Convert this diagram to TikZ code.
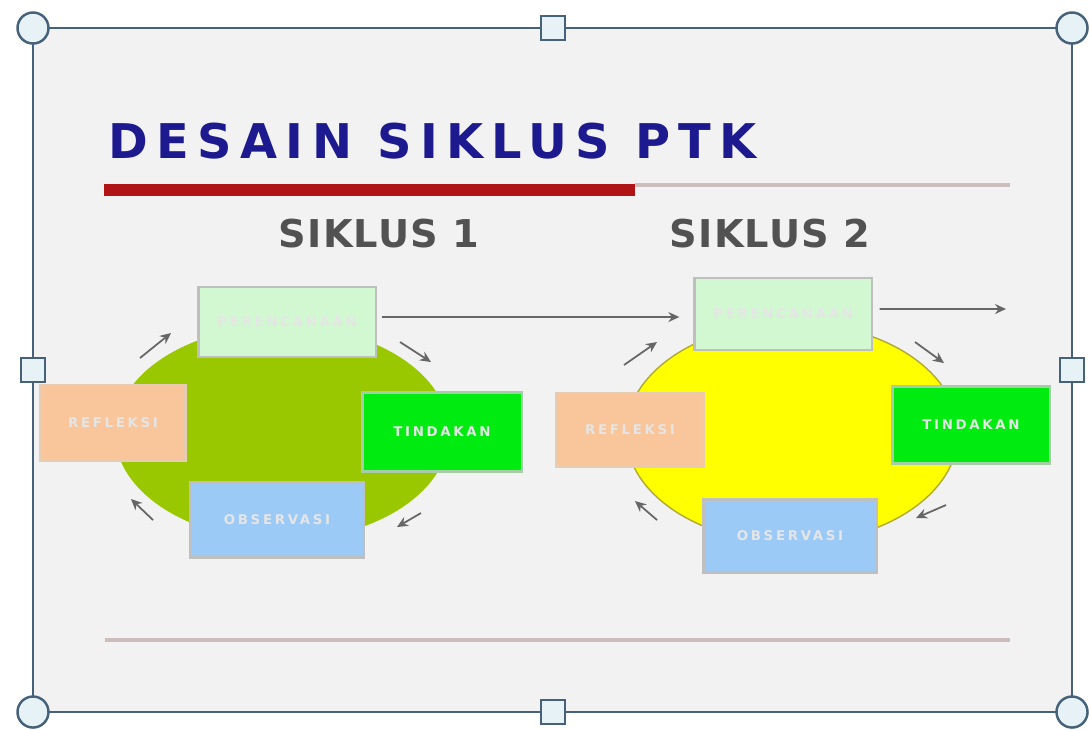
\documentclass[tikz,border=0pt]{standalone}
\usepackage{fontspec}
\setmainfont{DejaVu Sans}
\usepackage{xcolor}
\usetikzlibrary{shapes.geometric, arrows.meta, positioning}
\definecolor{framec}{HTML}{46627A}
\definecolor{handlec}{HTML}{E6F2F6}
\definecolor{bgc}{HTML}{F2F2F2}
\definecolor{titlec}{HTML}{1C1A8E}
\definecolor{barc}{HTML}{B01414}
\definecolor{linec}{HTML}{CDBDBD}
\definecolor{plangr}{HTML}{D2F8D2}
\definecolor{peach}{HTML}{F8C69A}
\definecolor{actgr}{HTML}{00EC10}
\definecolor{obsbl}{HTML}{9CCAF6}
\definecolor{olivec}{HTML}{99C800}
\definecolor{yellc}{HTML}{FFFF00}
\begin{document}
\begin{tikzpicture}[x=0.01cm, y=-0.01cm,
    box/.style={rectangle, draw=black!25, line width=0.6pt, text=white!90!black,
                font=\fontsize{3.8}{5}\selectfont\bfseries\addfontfeature{LetterSpace=20},
                inner sep=0pt},
    cyc/.style={ellipse, inner sep=0pt},
    hcirc/.style={circle, draw=framec, fill=handlec, line width=0.7pt,
                  minimum size=0.31cm, inner sep=0pt},
    hsq/.style={rectangle, draw=framec, fill=handlec, line width=0.7pt,
                minimum size=0.24cm, inner sep=0pt},
    cycle label/.style={font=\fontsize{10.9}{12}\selectfont\bfseries\addfontfeature{LetterSpace=3}, text=black!68},
    arrow/.style={-{Stealth[length=1.1mm, width=1mm]}, line width=0.5pt, black!60}]
  \useasboundingbox (0,0) rectangle (1089,729);
  \fill[white] (0,0) rectangle (1089,729);
  \fill[bgc] (33,28) rectangle (1072,712);
  \node[anchor=base west, inner sep=0pt, text=titlec, font=\fontsize{13.6}{15}\selectfont\bfseries\addfontfeature{LetterSpace=17.5}]
    (title) at (108,158) {DESAIN SIKLUS PTK};
  \fill[linec] (635,183) rectangle (1010,187);
  \fill[barc] (104,184) rectangle (635,196);
  \node[cycle label] (s1) at (379,234) {SIKLUS 1};
  \node[cycle label] (s2) at (770,234) {SIKLUS 2};
  \node[cyc, fill=olivec, minimum width=3.34cm, minimum height=2.14cm] (e1) at (282,433) {};
  \node[cyc, fill=yellc, draw=olive!70, thin, minimum width=3.32cm, minimum height=2.2cm] (e2) at (792,433) {};
  \node[box, fill=plangr, minimum width=1.77cm, minimum height=0.70cm] (pl1) at (287,322) {PERENCANAAN};
  \node[box, fill=peach, draw=brown!40, minimum width=1.45cm, minimum height=0.76cm] (rf1) at (113,423) {REFLEKSI};
  \node[box, fill=actgr, draw=green!45!black!35, minimum width=1.59cm, minimum height=0.79cm] (td1) at (442,432) {TINDAKAN};
  \node[box, fill=obsbl, minimum width=1.74cm, minimum height=0.75cm] (ob1) at (277,520) {OBSERVASI};
  \node[box, fill=plangr, minimum width=1.77cm, minimum height=0.72cm] (pl2) at (783,314) {PERENCANAAN};
  \node[box, fill=peach, draw=brown!40, minimum width=1.47cm, minimum height=0.74cm] (rf2) at (630,430) {REFLEKSI};
  \node[box, fill=actgr, draw=green!45!black!35, minimum width=1.57cm, minimum height=0.77cm] (td2) at (971,425) {TINDAKAN};
  \node[box, fill=obsbl, minimum width=1.73cm, minimum height=0.73cm] (ob2) at (790,536) {OBSERVASI};
  \coordinate (a1) at (140,358);
  \coordinate (b1) at (171,333);
  \coordinate (a2) at (400,342);
  \coordinate (b2) at (431,362);
  \coordinate (a3) at (421,513);
  \coordinate (b3) at (397,527);
  \coordinate (a4) at (153,520);
  \coordinate (b4) at (131,499);
  \coordinate (c1) at (624,365);
  \coordinate (d1) at (657,342);
  \coordinate (c2) at (915,342);
  \coordinate (d2) at (944,363);
  \coordinate (c3) at (946,505);
  \coordinate (d3) at (916,518);
  \coordinate (c4) at (657,520);
  \coordinate (d4) at (635,501);
  \coordinate (next) at (1006,309);
  \draw[arrow] (a1) -- (b1);
  \draw[arrow] (a2) -- (b2);
  \draw[arrow] (a3) -- (b3);
  \draw[arrow] (a4) -- (b4);
  \draw[arrow] (c1) -- (d1);
  \draw[arrow] (c2) -- (d2);
  \draw[arrow] (c3) -- (d3);
  \draw[arrow] (c4) -- (d4);
  \draw[arrow, shorten <=1.5pt, shorten >=4pt] ([yshift=0.05cm]pl1.east) -- ([yshift=0.05cm]pl1.east -| pl2.west);
  \draw[arrow, shorten <=2pt] ([yshift=0.05cm]pl2.east) -- (next);
  \fill[linec] (105,638) rectangle (1010,642);
  \draw[framec, line width=0.8pt] (33,28) rectangle (1072,712);
  \node[hcirc] (h1) at (33,28) {};
  \node[hcirc] (h2) at (1072,28) {};
  \node[hcirc] (h3) at (33,712) {};
  \node[hcirc] (h4) at (1072,712) {};
  \node[hsq] (h5) at (553,28) {};
  \node[hsq] (h6) at (553,712) {};
  \node[hsq] (h7) at (33,370) {};
  \node[hsq] (h8) at (1072,370) {};
\end{tikzpicture}
\end{document}
